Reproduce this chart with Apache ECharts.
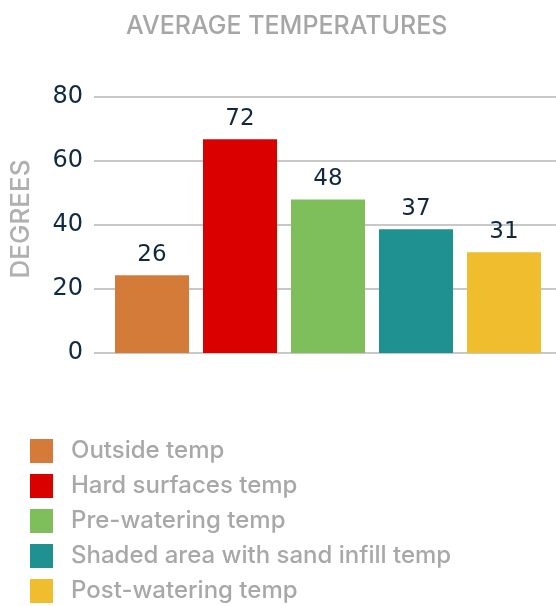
<!DOCTYPE html>
<html>
<head>
<meta charset="utf-8">
<script src="https://cdn.jsdelivr.net/npm/echarts@6/dist/echarts.min.js"></script>
<style>
  html, body { margin: 0; padding: 0; background: #fff; }
  #main { width: 556px; height: 606px; }
</style>
</head>
<body>
<div id="main"></div>
<script>
// categories and values (bar heights, labels as printed)
const categories = ['Outside temp', 'Hard surfaces temp', 'Pre-watering temp', 'Shaded area with sand infill temp', 'Post-watering temp'];
const values = [24.3, 66.8, 48, 38.7, 31.5];
const valueLabels = ['26', '72', '48', '37', '31'];
const colors = ['#d57b3a', '#db0000', '#7fbf5b', '#1e9190', '#efbd2e'];

const font = 'Inter';
const numFont = 'DejaVu Sans';

let chart = echarts.init(document.getElementById('main'));

// one series per category so the legend shows each one
let series = categories.map((name, i) => ({
    name: name,
    type: 'bar',
    xAxisIndex: 1,
    yAxisIndex: 1,
    stack: 'all',
    barWidth: 74,
    itemStyle: {color: colors[i]},
    label: {
        show: true,
        position: 'top',
        distance: 9,
        fontFamily: numFont,
        fontSize: 23,
        color: '#12283f',
        formatter: p => valueLabels[p.dataIndex]
    },
    data: values.map((v, j) => j === i ? v : '-')
}));

chart.setOption({
    animation: false,
    title: {
        text: 'AVERAGE TEMPERATURES',
        left: 121,
        top: 9,
        textStyle: {fontFamily: font, fontSize: 25, fontWeight: 500, color: '#a6a6a6'}
    },
    legend: {
        orient: 'vertical',
        left: 30,
        top: 439,
        padding: 0,
        icon: 'rect',
        itemWidth: 23,
        itemHeight: 24,
        itemGap: 11,
        selectedMode: false,
        textStyle: {fontFamily: font, fontSize: 24, fontWeight: 500, color: '#a8a8a8', padding: [0, 0, 0, 13]},
        data: categories
    },
    grid: [
        // grid lines and y labels
        {left: 91, right: 0, top: 97, height: 256},
        // bars
        {left: 108, right: 8, top: 97, height: 256}
    ],
    xAxis: [
        {gridIndex: 0, type: 'category', data: categories, show: false},
        {gridIndex: 1, type: 'category', data: categories,
         axisLine: {show: false}, axisTick: {show: false}, axisLabel: {show: false}}
    ],
    yAxis: [
        {
            gridIndex: 0, type: 'value', min: 0, max: 80, interval: 20,
            name: 'DEGREES',
            nameLocation: 'middle',
            nameRotate: 90,
            nameGap: 60,
            nameTextStyle: {fontFamily: font, fontSize: 26, fontWeight: 500, color: '#b0b0b0', padding: [0, 0, 0, 12]},
            axisLine: {show: false},
            axisTick: {show: false},
            axisLabel: {margin: 11, fontFamily: numFont, fontSize: 24, color: '#102a43'},
            splitLine: {lineStyle: {color: '#c8c8c8', width: 2}}
        },
        {gridIndex: 1, type: 'value', min: 0, max: 80, interval: 20, show: false, splitLine: {show: false}}
    ],
    series: series
});
</script>
</body>
</html>
